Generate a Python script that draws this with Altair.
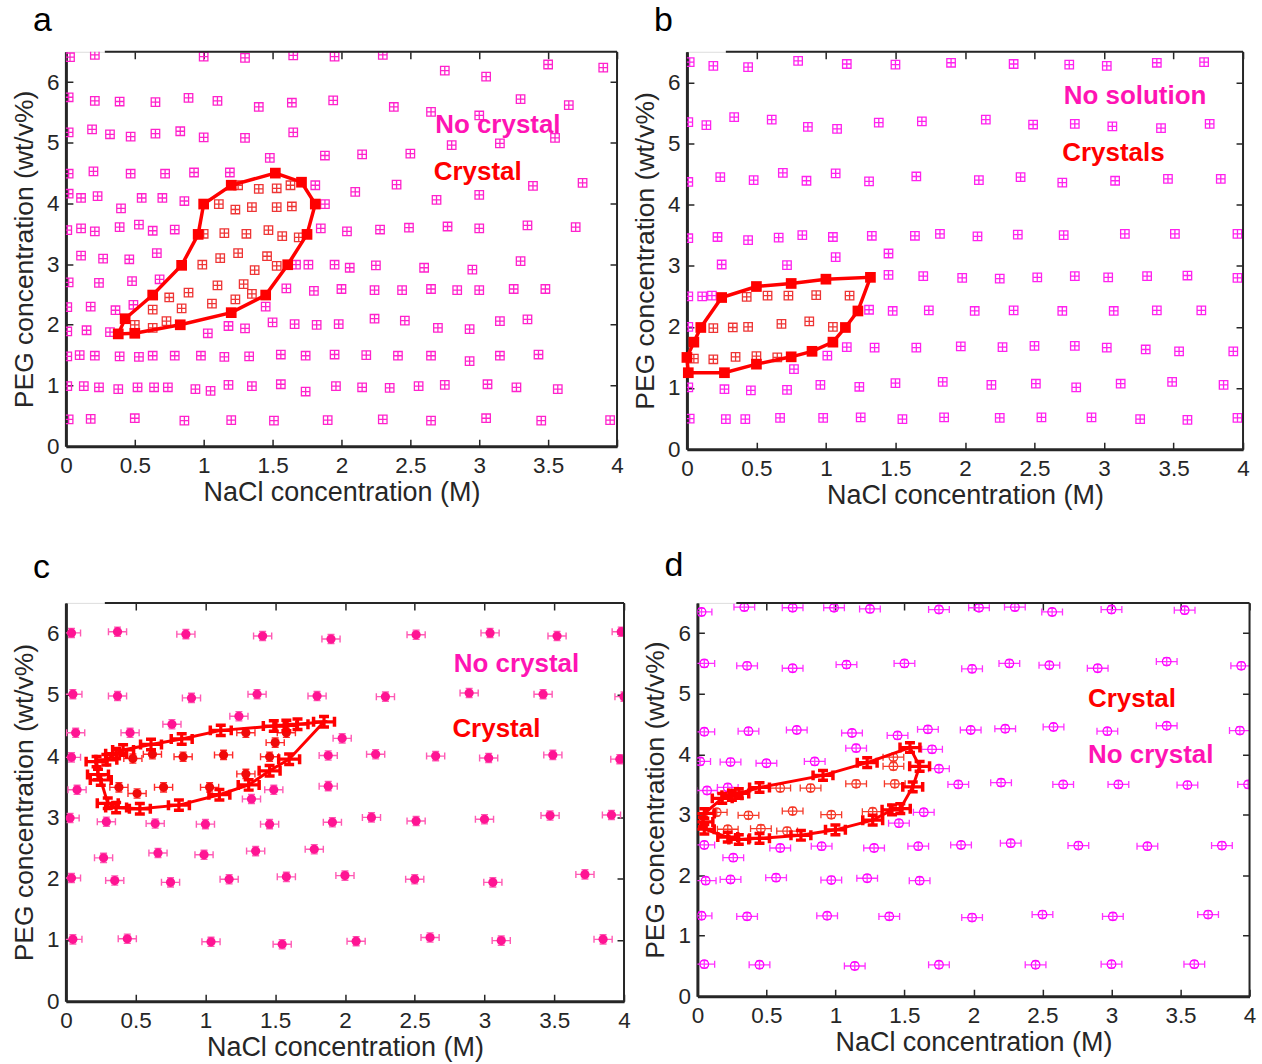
import altair as alt
import pandas as pd

FONT = "Liberation Sans"
INK = "#262626"
XT = [0, 0.5, 1, 1.5, 2, 2.5, 3, 3.5, 4]
YT = [0, 1, 2, 3, 4, 5, 6]
TIAN = "M-1,-1H1V1H-1Z M0,-1V1 M-1,0H1"
VLINE = "M0,-1V1"
HLINE = "M-1,0H1"

# ---------------- panel a ----------------
A_NC_X = [0.03, 0.21, 1.0, 1.3, 1.65, 1.95, 2.3, 2.75, 3.05, 3.5, 3.9,
          0.02, 0.21, 0.39, 0.65, 0.89, 1.1, 1.4, 1.64, 1.94, 2.38, 2.65, 3.0, 3.3, 3.65,
          0.02, 0.19, 0.32, 0.47, 0.65, 0.83, 1.0, 1.3, 1.65, 2.8, 3.15, 3.55,
          1.48, 1.88, 2.15, 2.5,
          0.02, 0.2, 0.47, 0.72, 0.93, 1.19, 1.81, 2.4, 3.39, 3.75, 2.1, 2.69, 3.0,
          0.02, 0.11, 0.23, 0.4, 0.55, 0.7, 0.86, 1.88,
          0.01, 0.11, 0.21, 0.39, 0.53, 0.63, 0.79, 1.85, 2.04, 2.28, 2.49, 2.77, 3.0, 3.35, 3.7,
          0.11, 0.27, 0.46, 0.66, 1.67, 1.76, 1.95, 2.06, 2.25, 2.6, 2.95, 3.3,
          0.02, 0.24, 0.48, 0.68, 1.6, 1.8, 2.0, 2.24, 2.44, 2.65, 2.84, 3.0, 3.25, 3.48,
          0.01, 0.18, 0.36, 0.49, 1.45,
          0.01, 0.15, 0.32, 1.03, 1.18, 1.3, 1.5, 1.66, 1.82, 1.98, 2.24, 2.46, 2.7, 2.93, 3.15, 3.35,
          0.01, 0.1, 0.21, 0.39, 0.53, 0.63, 0.79, 0.98, 1.15, 1.33, 1.56, 1.74, 1.95, 2.18, 2.41, 2.65, 2.93, 3.15, 3.43,
          0.01, 0.13, 0.24, 0.38, 0.52, 0.64, 0.74, 0.94, 1.05, 1.18, 1.35, 1.56, 1.74, 1.96, 2.15, 2.35, 2.56, 2.75, 3.06, 3.27, 3.57,
          0.02, 0.18, 0.5, 0.86, 1.2, 1.51, 1.9, 2.3, 2.65, 3.05, 3.45, 3.95]
A_NC_Y = [6.41, 6.45, 6.42, 6.40, 6.44, 6.42, 6.45, 6.19, 6.09, 6.29, 6.24,
          5.75, 5.69, 5.68, 5.67, 5.74, 5.69, 5.59, 5.66, 5.7, 5.59, 5.51, 5.45, 5.72, 5.62,
          5.17, 5.22, 5.14, 5.1, 5.15, 5.19, 5.09, 5.08, 5.17, 4.96, 4.99, 5.08,
          4.75, 4.79, 4.81, 4.82,
          4.49, 4.53, 4.49, 4.49, 4.51, 4.51, 4.3, 4.31, 4.29, 4.34, 4.19, 4.06, 4.14,
          4.16, 4.09, 4.12, 3.92, 4.09, 4.09, 4.04, 3.99,
          3.56, 3.59, 3.54, 3.61, 3.65, 3.55, 3.57, 3.59, 3.54, 3.57, 3.6, 3.62, 3.59, 3.64, 3.61,
          3.14, 3.09, 3.08, 3.18, 2.99, 2.99, 2.99, 2.94, 2.98, 2.94, 2.91, 3.05,
          2.7, 2.69, 2.72, 2.75, 2.6, 2.56, 2.59, 2.57, 2.57, 2.59, 2.57, 2.57, 2.59, 2.59,
          2.29, 2.3, 2.24, 2.33, 2.3,
          1.89, 1.91, 1.88, 1.86, 1.98, 1.94, 2.04, 2.01, 2.0, 2.01, 2.1, 2.07, 1.95, 1.93, 2.06, 2.09,
          1.48, 1.5, 1.49, 1.48, 1.47, 1.49, 1.49, 1.49, 1.47, 1.48, 1.51, 1.49, 1.51, 1.5, 1.49, 1.49, 1.4, 1.49, 1.51,
          0.99, 0.99, 0.97, 0.94, 0.97, 0.97, 0.97, 0.94, 0.91, 1.01, 0.99, 1.02, 0.9, 0.99, 0.97, 0.96, 0.99, 1.01, 1.02, 0.97, 0.94,
          0.44, 0.45, 0.46, 0.42, 0.43, 0.42, 0.43, 0.44, 0.42, 0.46, 0.42, 0.43]
A_CR_X = [1.11, 1.23, 1.35, 1.4, 1.53, 1.53, 1.63, 1.64, 1.0, 1.15, 1.31, 1.47, 1.57, 1.69,
          0.99, 1.12, 1.25, 1.37, 1.46, 1.53, 0.63, 0.75, 0.84, 0.89, 1.1, 1.06, 1.23, 1.29,
          1.35, 0.73, 0.63, 0.5, 1.25]
A_CR_Y = [3.99, 3.9, 3.94, 4.24, 4.25, 3.94, 4.3, 3.95, 3.5, 3.51, 3.5, 3.56, 3.46, 3.44,
          2.99, 3.1, 3.18, 2.9, 3.13, 2.97, 2.25, 2.45, 2.27, 2.53, 2.65, 2.35, 2.42, 2.67,
          2.51, 2.06, 1.95, 2.0, 4.3]
A_BD_X = [0.38, 0.43, 0.63, 0.84, 0.96, 1.0, 1.2, 1.52, 1.71, 1.81, 1.75, 1.61, 1.45, 1.2, 0.83, 0.5]
A_BD_Y = [1.85, 2.1, 2.49, 2.98, 3.49, 3.99, 4.3, 4.5, 4.35, 3.99, 3.49, 2.99, 2.49, 2.2, 2.0, 1.86]

# ---------------- panel b ----------------
B_NC_X = [0.02, 0.19, 0.44, 0.8, 1.15, 1.5, 1.9, 2.35, 2.75, 3.02, 3.38, 3.72,
          0.01, 0.14, 0.34, 0.61, 0.87, 1.08, 1.38, 1.69, 2.15, 2.49, 2.79, 3.06, 3.41, 3.76,
          0.01, 0.24, 0.48, 0.69, 0.86, 1.07, 1.31, 1.65, 2.1, 2.4, 2.7, 3.08, 3.46, 3.84,
          0.01, 0.22, 0.44, 0.66, 0.83, 1.05, 1.33, 1.64, 1.82, 2.09, 2.38, 2.71, 3.15, 3.51, 3.96,
          0.25, 0.72, 1.07, 1.45,
          1.45, 1.7, 1.98, 2.25, 2.52, 2.79, 3.03, 3.31, 3.6, 3.96,
          1.31, 1.48, 1.74, 2.07, 2.35, 2.7, 3.07, 3.38, 3.7,
          0.01, 0.11, 0.18, 0.01,
          1.15, 1.35, 1.65, 1.97, 2.27, 2.5, 2.79, 3.02, 3.3, 3.54, 3.93, 1.01, 0.77,
          0.01, 0.27, 0.46, 0.72, 0.96, 1.24, 1.5, 1.84, 2.19, 2.51, 2.8, 3.12, 3.49, 3.86,
          0.02, 0.28, 0.42, 0.67, 0.98, 1.25, 1.55, 1.85, 2.25, 2.55, 2.91, 3.26, 3.6, 3.96]
B_NC_Y = [6.33, 6.27, 6.25, 6.35, 6.3, 6.29, 6.32, 6.3, 6.29, 6.27, 6.32, 6.33,
          5.35, 5.3, 5.43, 5.39, 5.27, 5.24, 5.34, 5.36, 5.39, 5.31, 5.32, 5.28, 5.25, 5.32,
          4.37, 4.45, 4.4, 4.52, 4.39, 4.51, 4.38, 4.46, 4.4, 4.45, 4.36, 4.39, 4.42, 4.42,
          3.45, 3.47, 3.42, 3.46, 3.5, 3.47, 3.49, 3.49, 3.52, 3.48, 3.51, 3.5, 3.52, 3.52, 3.52,
          3.02, 3.01, 3.14, 3.2,
          2.85, 2.83, 2.8, 2.79, 2.81, 2.83, 2.81, 2.83, 2.84, 2.8,
          2.28, 2.26, 2.27, 2.26, 2.27, 2.26, 2.26, 2.27, 2.27,
          2.5, 2.5, 2.51, 2.0,
          1.67, 1.66, 1.66, 1.68, 1.67, 1.69, 1.69, 1.66, 1.63, 1.6, 1.6, 1.53, 1.31,
          1.01, 0.98, 0.96, 0.97, 1.05, 1.02, 1.08, 1.1, 1.05, 1.07, 1.01, 1.07, 1.1, 1.05,
          0.5, 0.49, 0.49, 0.51, 0.51, 0.52, 0.49, 0.52, 0.51, 0.52, 0.52, 0.49, 0.48, 0.51]
B_CR_X = [0.43, 0.58, 0.73, 0.93, 1.17, 0.19, 0.33, 0.44, 0.68, 0.88, 1.05, 0.05, 0.19, 0.35, 0.5, 0.65]
B_CR_Y = [2.49, 2.51, 2.51, 2.52, 2.51, 1.98, 1.99, 2.0, 2.05, 2.09, 2.0, 1.48, 1.47, 1.51, 1.52, 1.5]
B_BD_X = [0.01, 0.0, 0.05, 0.1, 0.25, 0.5, 0.75, 1.0, 1.32, 1.23, 1.14, 1.05, 0.9, 0.75, 0.5, 0.27]
B_BD_Y = [1.25, 1.5, 1.75, 1.99, 2.48, 2.66, 2.71, 2.78, 2.81, 2.26, 1.99, 1.75, 1.6, 1.51, 1.39, 1.25]

# ---------------- panel c ----------------
C_NC_X = [0.04, 0.37, 0.86, 1.41, 1.9, 2.51, 3.04, 3.52, 3.98,
          0.05, 0.37, 0.9, 1.37, 1.8, 2.29, 2.89, 3.42, 4.0,
          0.07, 0.46, 0.76, 1.24, 1.98,
          0.04, 1.88, 2.22, 2.65, 3.03, 3.49, 3.97,
          0.08, 1.49, 1.88, 1.33,
          0.03, 0.29, 0.64, 1.0, 1.46, 1.91, 2.19, 2.51, 3.0, 3.47, 3.91,
          0.27, 0.66, 0.99, 1.36, 1.78,
          0.04, 0.35, 0.75, 1.17, 1.58, 2.0, 2.5, 3.06, 3.72,
          0.05, 0.44, 1.04, 1.55, 2.08, 2.61, 3.12, 3.85]
C_NC_Y = [6.01, 6.03, 5.99, 5.96, 5.91, 5.98, 6.01, 5.96, 6.03,
          5.01, 4.98, 4.95, 5.01, 4.98, 4.97, 5.03, 5.01, 4.97,
          4.38, 4.38, 4.52, 4.65, 4.29,
          3.98, 4.01, 4.03, 4.0, 3.97, 4.02, 3.95,
          3.45, 3.45, 3.51, 3.3,
          2.99, 2.93, 2.9, 2.89, 2.89, 2.92, 3.0, 2.94, 2.97, 3.03, 3.04,
          2.34, 2.42, 2.39, 2.45, 2.48,
          2.01, 1.97, 1.94, 1.99, 2.03, 2.05, 1.99, 1.94, 2.07,
          1.01, 1.02, 0.97, 0.93, 0.98, 1.04, 0.99, 1.01]
C_CR_X = [0.48, 0.62, 0.84, 1.13, 1.29, 1.58, 1.5, 1.46, 0.38, 0.51, 0.7, 1.03, 1.29]
C_CR_Y = [3.96, 4.03, 3.99, 4.02, 4.38, 4.38, 4.22, 3.99, 3.49, 3.39, 3.49, 3.49, 3.71]
C_BD_X = [0.22, 0.29, 0.36, 0.41, 0.61, 0.83, 1.11, 1.49, 1.58, 1.66, 1.85,
          1.6, 1.46, 1.31, 1.1, 0.81, 0.53, 0.36, 0.3, 0.25, 0.23]
C_BD_Y = [3.91, 3.94, 4.04, 4.1, 4.19, 4.28, 4.42, 4.49, 4.5, 4.52, 4.56,
          3.95, 3.76, 3.53, 3.37, 3.2, 3.14, 3.16, 3.23, 3.61, 3.7]

# ---------------- panel d ----------------
D_NC_X = [0.03, 0.34, 0.69, 0.99, 1.25, 1.75, 2.04, 2.3, 2.57, 3.0, 3.53,
          0.05, 0.36, 0.69, 1.08, 1.5, 1.99, 2.26, 2.55, 2.9, 3.4, 3.94,
          0.05, 0.37, 0.72, 1.12, 1.45, 1.67, 1.98, 2.23, 2.58, 2.97, 3.4, 3.93,
          1.15, 1.7,
          0.02, 0.24, 0.5, 0.85, 1.75,
          0.07, 0.22, 1.89, 2.2, 2.65, 3.05, 3.55, 3.99,
          1.64, 1.46,
          0.05, 0.26, 0.6, 0.9, 1.28, 1.6, 1.91, 2.27, 2.76, 3.26, 3.8,
          0.06, 0.24, 0.57, 0.97, 1.23, 1.61,
          0.03, 0.36, 0.94, 1.39, 1.99, 2.5, 3.01, 3.7,
          0.05, 0.45, 1.14, 1.75, 2.45, 3.0, 3.6]
D_NC_Y = [6.35, 6.43, 6.42, 6.42, 6.4, 6.39, 6.42, 6.43, 6.35, 6.39, 6.38,
          5.5, 5.46, 5.42, 5.48, 5.5, 5.41, 5.5, 5.47, 5.42, 5.53, 5.46,
          4.37, 4.38, 4.4, 4.35, 4.31, 4.41, 4.4, 4.42, 4.45, 4.38, 4.47, 4.39,
          4.1, 4.08,
          3.88, 3.87, 3.85, 3.88, 3.76,
          3.4, 3.45, 3.5, 3.53, 3.5, 3.5, 3.49, 3.5,
          3.04, 2.86,
          2.5, 2.29, 2.45, 2.48, 2.45, 2.48, 2.5, 2.53, 2.49, 2.48, 2.49,
          1.91, 1.93, 1.96, 1.92, 1.95, 1.91,
          1.33, 1.32, 1.33, 1.32, 1.3, 1.35, 1.32, 1.35,
          0.53, 0.52, 0.5, 0.52, 0.52, 0.53, 0.53]
D_CR_X = [0.6, 0.82, 1.15, 1.43, 1.42, 1.42, 0.14, 0.37, 0.69, 0.97, 1.27, 0.46, 0.65, 0.22]
D_CR_Y = [3.44, 3.44, 3.51, 3.51, 3.95, 3.8, 3.04, 2.99, 3.06, 3.0, 3.05, 2.77, 2.73, 2.76]
D_BD_X = [0.05, 0.18, 0.25, 0.3, 0.45, 0.91, 1.23, 1.54, 1.61, 1.56, 1.47, 1.41, 1.27,
          1.0, 0.75, 0.45, 0.3, 0.22, 0.05, 0.04]
D_BD_Y = [3.02, 3.27, 3.32, 3.35, 3.45, 3.65, 3.86, 4.11, 3.8, 3.46, 3.1, 3.08, 2.91,
          2.75, 2.66, 2.61, 2.59, 2.63, 2.76, 2.88]

# region labels: x, y, text, colour
A_LAB = [(2.68, 5.29, "No crystal", "#FF14B4"), (2.67, 4.51, "Crystal", "#FF0000")]
B_LAB = [(2.71, 5.77, "No solution", "#FF14B4"), (2.70, 4.85, "Crystals", "#FF0000")]
C_LAB = [(2.78, 5.51, "No crystal", "#FF14B4"), (2.77, 4.44, "Crystal", "#FF0000")]
D_LAB = [(2.83, 4.91, "Crystal", "#FF0000"), (2.83, 3.99, "No crystal", "#FF14B4")]


def mk(xs, ys):
    return pd.DataFrame({"x": xs, "y": ys, "i": list(range(len(xs)))})


def make_panel(letter, W, H, toff, nc, cr, bd, kind, labels, nc_col, nc_err_col):
    xs = alt.Scale(domain=[0, 4], nice=False, zero=False)
    ys = alt.Scale(domain=[0, 6.5], nice=False, zero=False)
    common = dict(grid=True, gridColor=INK, gridWidth=1.5, ticks=False, tickSize=0,
                  domainColor=INK, domainWidth=3, labelFont=FONT, labelFontSize=22.5,
                  labelColor=INK, titleFont=FONT,
                  titleFontWeight="normal", titleColor=INK, labelOverlap=False,
                  labelFlush=False)
    xax = alt.Axis(values=XT, format="~g", title="NaCl concentration (M)", titleFontSize=27,
                   gridDash=[7, H - 14, 7, 3000], labelPadding=8, titlePadding=3, **common)
    yax = alt.Axis(values=YT, format="~g", title="PEG concentration (wt/v%)", titleFontSize=26.5,
                   gridDash=[7, W - 14, 7, 3000], labelPadding=7, titlePadding=8, **common)

    def X(f):
        return alt.X(f"{f}:Q", scale=xs, axis=xax)

    def Y(f):
        return alt.Y(f"{f}:Q", scale=ys, axis=yax)

    def errbars(d, xe, ye, col, w, cap, capw):
        base = alt.Chart(d).transform_calculate(
            xlo=f"datum.x-{xe}", xhi=f"datum.x+{xe}",
            ylo=f"datum.y-{ye}", yhi=f"datum.y+{ye}")
        return [
            base.mark_rule(color=col, strokeWidth=w, clip=True).encode(
                x=X("xlo"), x2="xhi:Q", y=Y("y")),
            base.mark_rule(color=col, strokeWidth=w, clip=True).encode(
                x=X("x"), y=Y("ylo"), y2="yhi:Q"),
            base.transform_fold(["xlo", "xhi"], as_=["k", "cx"]).mark_point(
                shape=VLINE, size=cap * cap, filled=False, strokeWidth=capw,
                color=col, opacity=1, clip=True).encode(x=X("cx"), y=Y("y")),
            base.transform_fold(["ylo", "yhi"], as_=["k", "cy"]).mark_point(
                shape=HLINE, size=cap * cap, filled=False, strokeWidth=capw,
                color=col, opacity=1, clip=True).encode(x=X("x"), y=Y("cy")),
        ]

    RED = "#FF0000"
    layers = []
    if kind == "square":
        layers.append(alt.Chart(nc).mark_point(shape=TIAN, filled=False, size=72,
                                               strokeWidth=1.3, color=nc_col, opacity=1,
                                               clip=True).encode(x=X("x"), y=Y("y")))
        layers.append(alt.Chart(cr).mark_point(shape=TIAN, filled=False, size=72,
                                               strokeWidth=1.3, color="#EE3535", opacity=1,
                                               clip=True).encode(x=X("x"), y=Y("y")))
        layers.append(alt.Chart(bd).mark_line(color=RED, strokeWidth=3.5,
                                              interpolate="linear-closed").encode(
            x=X("x"), y=Y("y"), order="i:Q"))
        layers.append(alt.Chart(bd).mark_point(shape="square", filled=True, size=115,
                                               color=RED, opacity=1).encode(x=X("x"), y=Y("y")))
    elif kind == "filled":
        layers += errbars(nc, 0.065, 0.075, nc_err_col, 1.4, 7, 1.4)
        layers.append(alt.Chart(nc).mark_circle(size=85, color=nc_col, opacity=1,
                                                clip=True).encode(x=X("x"), y=Y("y")))
        layers += errbars(cr, 0.065, 0.075, "#FF2A2A", 1.4, 7, 1.4)
        layers.append(alt.Chart(cr).mark_circle(size=85, color="#F00A0A", opacity=1,
                                                clip=True).encode(x=X("x"), y=Y("y")))
        layers.append(alt.Chart(bd).mark_line(color=RED, strokeWidth=3,
                                              interpolate="linear-closed").encode(
            x=X("x"), y=Y("y"), order="i:Q"))
        layers += errbars(bd, 0.075, 0.085, RED, 3.2, 10, 3.5)
    else:
        layers += errbars(nc, 0.075, 0.06, nc_err_col, 1.3, 7, 1.3)
        layers.append(alt.Chart(nc).mark_point(shape="circle", filled=False, size=75,
                                               strokeWidth=1.2, color=nc_col, opacity=1,
                                               clip=True).encode(x=X("x"), y=Y("y")))
        layers += errbars(cr, 0.075, 0.06, "#F53A2A", 1.3, 7, 1.3)
        layers.append(alt.Chart(cr).mark_point(shape="circle", filled=False, size=75,
                                               strokeWidth=1.2, color="#F53A2A", opacity=1,
                                               clip=True).encode(x=X("x"), y=Y("y")))
        layers.append(alt.Chart(bd).mark_line(color=RED, strokeWidth=3,
                                              interpolate="linear-closed").encode(
            x=X("x"), y=Y("y"), order="i:Q"))
        layers += errbars(bd, 0.072, 0.08, RED, 3.2, 10, 3.5)

    lab = pd.DataFrame(labels, columns=["x", "y", "t", "c"])
    layers.append(alt.Chart(lab).mark_text(align="left", baseline="middle", font=FONT,
                                           fontSize=26, fontWeight="bold").encode(
        x=X("x"), y=Y("y"), text="t:N", color=alt.Color("c:N", scale=None)))

    frame = alt.Chart(pd.DataFrame({"k": [0]}))
    layers.append(frame.mark_rule(color=INK, strokeWidth=2).encode(
        x=alt.value(W), y=alt.value(0), y2=alt.value(H)))
    layers.append(frame.mark_rule(color=INK, strokeWidth=2).encode(
        x=alt.value(round(0.07 * W)), x2=alt.value(W), y=alt.value(0)))

    return alt.layer(*layers).properties(
        width=W, height=H,
        title=alt.TitleParams(letter, anchor="start", frame="group", dx=-33, offset=toff,
                              fontSize=34, fontWeight="normal", font=FONT,
                              color="black"))


pa = make_panel("a", 552, 395, 13, mk(A_NC_X, A_NC_Y), mk(A_CR_X, A_CR_Y),
                mk(A_BD_X, A_BD_Y), "square", A_LAB, "#FF22CC", "#FF22CC")
pb = make_panel("b", 557, 398, 13, mk(B_NC_X, B_NC_Y), mk(B_CR_X, B_CR_Y),
                mk(B_BD_X, B_BD_Y), "square", B_LAB, "#FF22EE", "#FF22EE")
pc = make_panel("c", 559, 399, 17, mk(C_NC_X, C_NC_Y), mk(C_CR_X, C_CR_Y),
                mk(C_BD_X, C_BD_Y), "filled", C_LAB, "#FF1493", "#FF5AB4")
pd_ = make_panel("d", 553, 394, 19, mk(D_NC_X, D_NC_Y), mk(D_CR_X, D_CR_Y),
                 mk(D_BD_X, D_BD_Y), "open", D_LAB, "#FF00FF", "#FF30FF")

row1 = alt.hconcat(pa, pb, spacing=7)
row2 = alt.hconcat(pc, pd_, spacing=10.5)
chart = alt.vconcat(row1, row2, spacing=39).properties(
    padding={"left": 10, "top": 2, "right": 5, "bottom": 5}
).configure_view(stroke=None).configure(background="white")

chart.save("out.html", embed_options={"renderer": "svg", "actions": False})
